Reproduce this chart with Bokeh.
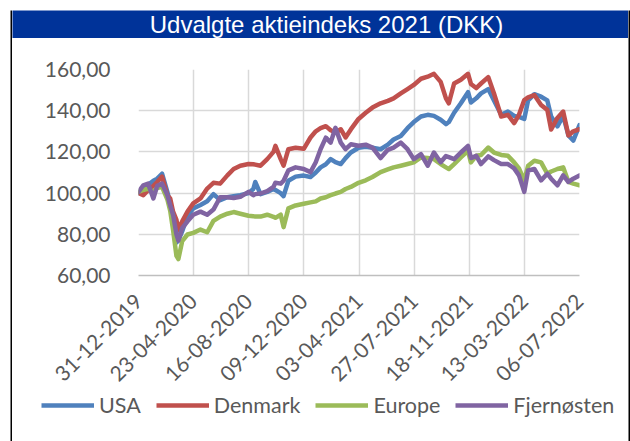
import math
import pandas as pd
from bokeh.plotting import figure
from bokeh.layouts import column, row
from bokeh.models import (FixedTicker, DatetimeTickFormatter, Legend, LegendItem, Range1d)
from bokeh.embed import file_html
from bokeh.resources import INLINE
from bokeh.core.properties import value

title_text = "Udvalgte aktieindeks 2021 (DKK)"
series_names = ["USA", "Denmark", "Europe", "Fjernøsten"]

dates = [
    "2019-12-31", "2020-01-10", "2020-01-20", "2020-01-31", "2020-02-08", "2020-02-18", "2020-02-29", "2020-03-06", "2020-03-12", "2020-03-19",
    "2020-03-23", "2020-03-31", "2020-04-11", "2020-04-23", "2020-05-08", "2020-05-22", "2020-06-04", "2020-06-18", "2020-07-03", "2020-07-16",
    "2020-07-30", "2020-08-16", "2020-08-26", "2020-08-30", "2020-09-10", "2020-09-24", "2020-10-07", "2020-10-11", "2020-10-22", "2020-10-28",
    "2020-11-07", "2020-11-22", "2020-12-09", "2020-12-23", "2021-01-03", "2021-01-13", "2021-01-24", "2021-02-03", "2021-02-13", "2021-02-24",
    "2021-03-06", "2021-03-17", "2021-04-02", "2021-04-17", "2021-05-01", "2021-05-18", "2021-06-02", "2021-06-14", "2021-06-29", "2021-07-13",
    "2021-07-26", "2021-08-10", "2021-08-24", "2021-09-06", "2021-09-20", "2021-10-01", "2021-10-07", "2021-10-18", "2021-11-01", "2021-11-16",
    "2021-11-22", "2021-12-03", "2021-12-13", "2021-12-28", "2022-01-09", "2022-01-24", "2022-02-07", "2022-02-20", "2022-03-02", "2022-03-13",
    "2022-03-21", "2022-04-03", "2022-04-17", "2022-04-30", "2022-05-08", "2022-05-21", "2022-06-02", "2022-06-13", "2022-06-23", "2022-07-06",
]

usa = [
    100.0, 102.5, 104.0, 106.0, 107.0, 109.4, 100.6, 95.0, 88.0, 76.0,
    77.0, 81.5, 89.0, 92.6, 94.2, 96.0, 99.5, 96.6, 98.0, 98.5,
    99.0, 100.0, 102.0, 105.4, 99.5, 100.6, 102.0, 101.5, 100.0, 98.5,
    106.0, 108.0, 108.5, 107.8, 110.0, 112.5, 114.0, 116.5, 115.0, 114.1,
    117.0, 119.7, 122.0, 122.5, 122.0, 121.3, 123.5, 126.0, 127.7, 131.5,
    134.5, 137.2, 138.0, 137.5, 135.6, 133.5, 134.5, 139.0, 143.6, 149.0,
    144.0, 146.0, 148.4, 150.5, 145.0, 138.0, 139.6, 137.5, 137.0, 136.0,
    145.0, 148.0, 146.8, 145.0, 137.2, 132.4, 137.5, 128.0, 125.5, 133.0,
]

denmark = [
    100.0, 99.0, 101.4, 103.5, 105.4, 108.0, 99.0, 97.4, 91.0, 87.0,
    82.0, 86.3, 91.0, 95.0, 97.4, 102.2, 105.0, 104.6, 108.6, 111.7,
    113.3, 114.1, 114.0, 113.8, 113.3, 116.5, 120.0, 122.9, 116.5, 113.3,
    121.3, 122.0, 121.5, 127.0, 130.0, 131.5, 132.5, 130.5, 129.5, 131.0,
    127.0, 130.9, 136.0, 139.0, 141.5, 143.6, 144.8, 146.0, 148.4, 150.5,
    152.5, 155.5, 156.5, 157.9, 154.0, 146.0, 143.6, 153.2, 155.0, 157.9,
    153.0, 151.0, 153.2, 156.3, 148.4, 137.2, 138.0, 134.0, 138.0, 145.2,
    146.5, 147.6, 142.8, 140.4, 130.9, 136.5, 139.6, 128.0, 130.0, 131.0,
]

europe = [
    100.6, 101.5, 102.2, 100.6, 102.5, 103.0, 97.0, 91.5, 82.0, 69.5,
    68.0, 76.7, 79.9, 80.7, 82.3, 81.0, 86.5, 88.6, 90.0, 90.8,
    90.0, 89.0, 88.8, 88.6, 88.6, 89.5, 88.5, 88.0, 89.5, 83.5,
    92.6, 94.0, 94.8, 95.5, 96.0, 97.4, 98.0, 99.0, 99.8, 100.6,
    102.0, 103.0, 105.0, 106.2, 107.8, 110.2, 111.5, 112.5, 113.3, 114.1,
    114.9, 117.3, 117.0, 116.5, 114.1, 112.5, 111.7, 114.1, 117.3, 120.5,
    114.9, 118.1, 118.5, 122.1, 119.7, 118.5, 118.1, 114.9, 112.0, 106.2,
    113.3, 115.7, 114.9, 109.4, 110.5, 111.7, 112.5, 105.4, 104.6, 103.8,
]

fjernosten = [
    100.6, 103.8, 104.6, 97.4, 103.5, 104.6, 99.0, 94.0, 89.5, 80.0,
    77.0, 83.0, 86.3, 89.5, 91.0, 89.5, 92.0, 98.0, 98.0, 97.6,
    98.2, 100.6, 99.0, 99.5, 99.8, 101.0, 103.0, 105.0, 104.6, 106.0,
    111.0, 112.5, 111.7, 110.2, 115.0, 121.3, 126.9, 124.5, 131.7, 124.5,
    121.3, 123.7, 123.0, 123.5, 122.1, 117.0, 121.0, 122.1, 124.5, 121.3,
    116.5, 118.9, 113.3, 119.7, 115.0, 118.0, 117.5, 116.5, 119.7, 122.9,
    117.0, 118.1, 114.1, 117.8, 116.0, 114.1, 114.1, 112.0, 108.6, 100.6,
    111.0, 111.7, 106.2, 109.4, 107.0, 103.8, 108.6, 105.4, 107.0, 108.6,
]

x_tick_dates = ["2019-12-31", "2020-04-23", "2020-08-16", "2020-12-09", "2021-04-03",
                "2021-07-27", "2021-11-18", "2022-03-13", "2022-07-06"]
y_ticks = [60, 80, 100, 120, 140, 160]
y_tick_labels = ["60,00", "80,00", "100,00", "120,00", "140,00", "160,00"]

colors = ["#4F81BD", "#C0504D", "#9BBB59", "#8064A2"]
label_font = "Lato"
label_color = "#595959"
grid_color = "#D9D9D9"
bar_color = "#003399"

x = pd.to_datetime(dates, format="%Y-%m-%d")
tick_ts = pd.to_datetime(x_tick_dates, format="%Y-%m-%d")
tick_ms = [int(t.value // 10**6) for t in tick_ts]
all_series = [usa, denmark, europe, fjernosten]

W = 616
LINE_W = 4.5


def bare(width, height, **kw):
    f = figure(width=width, height=height, x_axis_location=None, y_axis_location=None,
               output_backend="svg", toolbar_location=None, frame_align=False, title=None, **kw)
    f.grid.visible = False
    f.outline_line_color = None
    return f


def strip(width, height, left=0, top=0):
    """A plain black block (chart border piece) with optional white margin."""
    f = bare(width, height, min_border=0, min_border_left=left, min_border_top=top)
    f.background_fill_color = "black"
    f.border_fill_color = "white"
    return f


top_strip = strip(630, 10, left=10, top=8)
left_strip = strip(12, 431, left=10)
right_strip = strip(2, 431)

# --- title bar ---
tfig = bare(W, 28, x_range=Range1d(0, W), y_range=Range1d(0, 28), min_border=0)
tfig.background_fill_color = bar_color
tfig.border_fill_color = bar_color
tfig.text(x=[314], y=[13.8], text=[title_text], text_align="center", text_baseline="alphabetic",
          text_color="white", text_font=value("Liberation Sans"), text_font_size="24px")

# --- main chart ---
p = figure(width=W, height=353, x_axis_type="datetime",
           output_backend="svg", toolbar_location=None, frame_align=False, title=None,
           x_range=Range1d(tick_ts[0], tick_ts[-1]), y_range=Range1d(60, 160),
           min_border_left=126, min_border_right=49, min_border_top=31, min_border_bottom=113)
p.outline_line_color = None
p.background_fill_color = "white"
p.border_fill_color = "white"

xticker = FixedTicker(ticks=tick_ms)
yticker = FixedTicker(ticks=y_ticks)

p.xaxis.ticker = xticker
fmt = "%d-%m-%Y"
p.xaxis.formatter = DatetimeTickFormatter(days=fmt, months=fmt, years=fmt, hours=fmt, hourmin=fmt)
p.xaxis.major_label_orientation = math.pi / 4
p.yaxis.ticker = yticker
p.yaxis.major_label_overrides = {v: s for v, s in zip(y_ticks, y_tick_labels)}

for ax in (p.xaxis, p.yaxis):
    ax.major_tick_line_color = None
    ax.minor_tick_line_color = None
    ax.major_tick_out = 0
    ax.major_tick_in = 0
    ax.major_label_text_font = label_font
    ax.major_label_text_font_size = "21px"
    ax.major_label_text_color = label_color
p.yaxis.axis_line_color = None
p.yaxis.major_label_standoff = 28
p.xaxis.axis_line_color = "#BFBFBF"
p.xaxis.axis_line_width = 1.5
p.xaxis.major_label_standoff = 22

p.xgrid.ticker = xticker
p.ygrid.ticker = yticker
for g in (p.xgrid, p.ygrid):
    g.grid_line_color = grid_color
    g.grid_line_width = 1.5

for vals, c in zip(all_series, colors):
    p.line(x, vals, line_color=c, line_width=LINE_W, line_join="round", line_cap="round")

# --- legend strip (series drawn outside its visible range; only the legend shows) ---
lfig = bare(W, 50, x_range=Range1d(tick_ts[0], tick_ts[-1]), y_range=Range1d(0, 1), min_border=0)
lfig.background_fill_color = "white"
lfig.border_fill_color = "white"
items = []
for n, vals, c in zip(series_names, all_series, colors):
    r = lfig.line(x, vals, line_color=c, line_width=LINE_W)
    items.append(LegendItem(label=n, renderers=[r]))
legend = Legend(items=items, orientation="horizontal", location=(29, 23),
                label_text_font=label_font, label_text_font_size="21.5px", label_text_color=label_color,
                glyph_width=53, glyph_height=20, label_standoff=5, spacing=15,
                padding=0, margin=0, border_line_color=None, background_fill_alpha=0)
lfig.add_layout(legend)

layout = column(top_strip, row(left_strip, column(tfig, p, lfig), right_strip))

open("out.html", "w").write(file_html(layout, INLINE))
